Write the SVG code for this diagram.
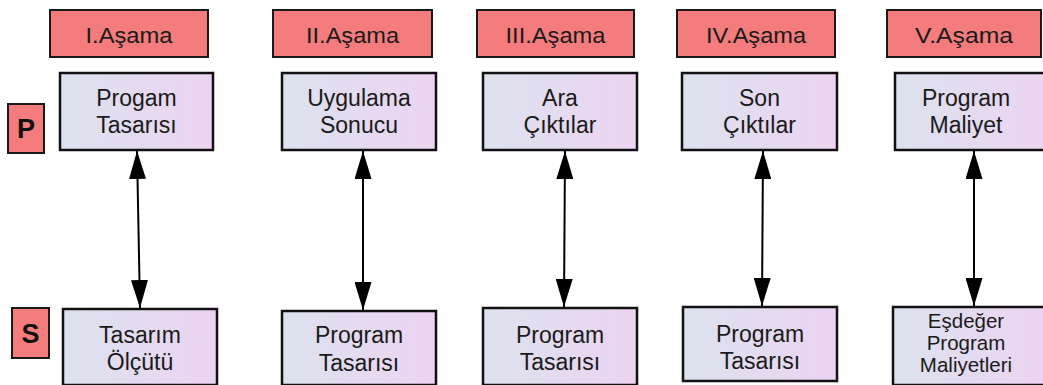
<svg xmlns="http://www.w3.org/2000/svg" width="1043" height="385" viewBox="0 0 1043 385">
  <defs>
    <linearGradient id="boxFill" x1="0" y1="0" x2="1" y2="0">
      <stop offset="0" stop-color="#DCE2EE"/>
      <stop offset="1" stop-color="#ECD4F1"/>
    </linearGradient>
    <marker id="head" viewBox="0 0 28 17" refX="28" refY="8.5" markerWidth="28" markerHeight="17" markerUnits="userSpaceOnUse" orient="auto-start-reverse">
      <path d="M0,0 L28,8.5 L0,17 z" fill="#000"/>
    </marker>
    <style>
      .stage { fill: #F47C7C; stroke: #1a1a1a; stroke-width: 2; }
      .tag { fill: #F47C7C; stroke: #1a1a1a; stroke-width: 2; }
      .box { fill: url(#boxFill); stroke: #111; stroke-width: 2.5; }
      .stxt { font-family: "Liberation Sans", Arial, sans-serif; font-size: 22px; fill: #1a1a1a; text-anchor: middle; }
      .ntxt { font-family: "Liberation Sans", Arial, sans-serif; font-size: 23px; fill: #1a1a1a; text-anchor: middle; }
      .small { font-size: 20.5px; }
      .ttxt { font-family: "Liberation Sans", Arial, sans-serif; font-size: 27px; font-weight: bold; fill: #111; text-anchor: middle; }
      .link { stroke: #000; stroke-width: 2; fill: none; marker-start: url(#head); marker-end: url(#head); }
    </style>
  </defs>

  <!-- row tags -->
  <g id="tag-p">
    <rect class="tag" x="8" y="104" width="36" height="49"/>
    <text class="ttxt" x="26" y="138">P</text>
  </g>
  <g id="tag-s">
    <rect class="tag" x="12" y="308" width="37" height="50"/>
    <text class="ttxt" x="30.5" y="343">S</text>
  </g>

  <!-- stage headers -->
  <g id="stage-1">
    <rect class="stage" x="50" y="10" width="158" height="47"/>
    <text class="stxt" x="129" y="42.5" textLength="87" lengthAdjust="spacingAndGlyphs">I.Aşama</text>
  </g>
  <g id="stage-2">
    <rect class="stage" x="273" y="10" width="159" height="47"/>
    <text class="stxt" x="352.5" y="42.5" textLength="93" lengthAdjust="spacingAndGlyphs">II.Aşama</text>
  </g>
  <g id="stage-3">
    <rect class="stage" x="477" y="10" width="157" height="47"/>
    <text class="stxt" x="555.5" y="42.5" textLength="100" lengthAdjust="spacingAndGlyphs">III.Aşama</text>
  </g>
  <g id="stage-4">
    <rect class="stage" x="677" y="10" width="158" height="47"/>
    <text class="stxt" x="756" y="42.5" textLength="100" lengthAdjust="spacingAndGlyphs">IV.Aşama</text>
  </g>
  <g id="stage-5">
    <rect class="stage" x="887" y="10" width="154" height="47"/>
    <text class="stxt" x="964" y="42.5" textLength="98" lengthAdjust="spacingAndGlyphs">V.Aşama</text>
  </g>

  <!-- top row -->
  <g id="p-1">
    <rect class="box" x="60" y="73" width="153" height="77"/>
    <text class="ntxt" x="136.5" y="106">Progam</text>
    <text class="ntxt" x="136.5" y="133">Tasarısı</text>
  </g>
  <g id="p-2">
    <rect class="box" x="282" y="73" width="154" height="77"/>
    <text class="ntxt" x="359" y="106">Uygulama</text>
    <text class="ntxt" x="359" y="133">Sonucu</text>
  </g>
  <g id="p-3">
    <rect class="box" x="483" y="73" width="154" height="77"/>
    <text class="ntxt" x="560" y="106">Ara</text>
    <text class="ntxt" x="560" y="133">Çıktılar</text>
  </g>
  <g id="p-4">
    <rect class="box" x="682" y="73" width="155" height="77"/>
    <text class="ntxt" x="759.5" y="106">Son</text>
    <text class="ntxt" x="759.5" y="133">Çıktılar</text>
  </g>
  <g id="p-5">
    <rect class="box" x="895" y="73" width="154" height="77"/>
    <text class="ntxt" x="966" y="106">Program</text>
    <text class="ntxt" x="966" y="133">Maliyet</text>
  </g>

  <!-- bottom row -->
  <g id="s-1">
    <rect class="box" x="63" y="309" width="154" height="76"/>
    <text class="ntxt" x="140" y="343">Tasarım</text>
    <text class="ntxt" x="140" y="370">Ölçütü</text>
  </g>
  <g id="s-2">
    <rect class="box" x="282" y="311" width="154" height="74"/>
    <text class="ntxt" x="359" y="343">Program</text>
    <text class="ntxt" x="359" y="371">Tasarısı</text>
  </g>
  <g id="s-3">
    <rect class="box" x="483" y="308" width="154" height="77"/>
    <text class="ntxt" x="560" y="343">Program</text>
    <text class="ntxt" x="560" y="370">Tasarısı</text>
  </g>
  <g id="s-4">
    <rect class="box" x="683" y="307" width="154" height="74"/>
    <text class="ntxt" x="760" y="342">Program</text>
    <text class="ntxt" x="760" y="369">Tasarısı</text>
  </g>
  <g id="s-5">
    <rect class="box" x="893" y="307" width="154" height="78"/>
    <text class="ntxt small" x="966" y="328">Eşdeğer</text>
    <text class="ntxt small" x="966" y="350">Program</text>
    <text class="ntxt small" x="966" y="372">Maliyetleri</text>
  </g>

  <!-- two-way links between rows -->
  <g id="connectors">
    <line class="link" x1="137" y1="151" x2="140" y2="308"/>
    <line class="link" x1="363" y1="151" x2="363" y2="310"/>
    <line class="link" x1="565" y1="151" x2="564" y2="307"/>
    <line class="link" x1="763" y1="151" x2="762" y2="306"/>
    <line class="link" x1="974" y1="151" x2="974" y2="306"/>
  </g>
</svg>
